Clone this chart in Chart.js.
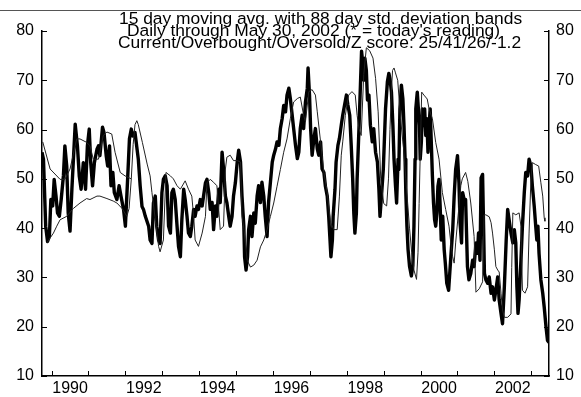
<!DOCTYPE html>
<html><head><meta charset="utf-8">
<script src="https://cdn.jsdelivr.net/npm/chart.js@4"></script>
<style>
html,body{margin:0;padding:0;background:#fff;}
#wrap{position:relative;width:581px;height:397px;overflow:hidden;background:#fff;}
#rule{position:absolute;left:0;top:10px;width:581px;height:1px;background:#555;}
canvas{position:absolute;left:0;top:0;}
.tl{position:absolute;white-space:nowrap;font-family:"Liberation Sans",Arial,Helvetica,sans-serif;font-size:17.4px;line-height:13px;height:13px;color:#000;z-index:2;}
</style></head>
<body>
<div id="wrap">
<div id="rule"></div>
<canvas id="c" width="581" height="397"></canvas>
<div class="tl" id="t1" style="left:119px;top:12px;">15 day moving avg. with 88 day std. deviation bands</div>
<div class="tl" id="t2" style="left:127px;top:24px;">Daily through May 30, 2002 (* = today's reading)</div>
<div class="tl" id="t3" style="left:118px;top:36px;">Current/Overbought/Oversold/Z score: 25/41/26/-1.2</div>
</div>
<script>
// ---- data (decimal years as labelled on the chart's axis) ----
const yearLabels = [1990, 1992, 1994, 1996, 1998, 2000, 2002];
const tickMarkYears = [1989.5,1990.5,1991.5,1992.5,1993.5,1994.5,1995.5,1996.5,1997.5,1998.5,1999.5,2000.5,2001.5,2002.5];
const valueTicks = [10, 20, 30, 40, 50, 60, 70, 80];

// thick line: 15 day moving average
const thickYears = [1989.24,1989.28,1989.34,1989.39,1989.44,1989.48,1989.53,1989.57,1989.62,1989.66,1989.71,1989.76,1989.82,1989.86,1989.91,1989.95,1990.00,1990.05,1990.11,1990.14,1990.20,1990.25,1990.30,1990.36,1990.42,1990.47,1990.52,1990.56,1990.61,1990.66,1990.73,1990.77,1990.81,1990.88,1990.92,1990.98,1991.02,1991.07,1991.11,1991.16,1991.20,1991.27,1991.33,1991.38,1991.45,1991.50,1991.56,1991.61,1991.66,1991.70,1991.76,1991.85,1991.90,1991.95,1991.99,1992.04,1992.13,1992.17,1992.22,1992.26,1992.31,1992.35,1992.40,1992.44,1992.49,1992.53,1992.58,1992.63,1992.67,1992.72,1992.76,1992.80,1992.85,1992.90,1992.94,1992.99,1993.03,1993.08,1993.12,1993.17,1993.21,1993.26,1993.30,1993.35,1993.39,1993.44,1993.48,1993.53,1993.58,1993.67,1993.71,1993.76,1993.80,1993.85,1993.89,1993.94,1993.98,1994.03,1994.07,1994.12,1994.16,1994.21,1994.25,1994.30,1994.34,1994.39,1994.43,1994.48,1994.53,1994.57,1994.62,1994.66,1994.71,1994.73,1994.77,1994.81,1994.84,1994.89,1994.93,1994.98,1995.02,1995.07,1995.11,1995.16,1995.20,1995.25,1995.29,1995.34,1995.38,1995.43,1995.48,1995.52,1995.57,1995.61,1995.66,1995.70,1995.75,1995.79,1995.84,1995.88,1995.93,1995.97,1996.02,1996.06,1996.11,1996.16,1996.20,1996.24,1996.29,1996.33,1996.38,1996.43,1996.45,1996.49,1996.52,1996.56,1996.61,1996.65,1996.70,1996.74,1996.79,1996.83,1996.88,1996.92,1996.97,1997.01,1997.04,1997.07,1997.11,1997.13,1997.18,1997.21,1997.26,1997.30,1997.35,1997.39,1997.44,1997.49,1997.53,1997.58,1997.62,1997.66,1997.69,1997.72,1997.76,1997.78,1997.83,1997.87,1997.90,1997.94,1997.96,1997.99,1998.03,1998.06,1998.10,1998.14,1998.19,1998.23,1998.28,1998.33,1998.37,1998.40,1998.44,1998.49,1998.55,1998.60,1998.64,1998.67,1998.71,1998.75,1998.78,1998.82,1998.85,1998.89,1998.91,1998.94,1998.98,1999.02,1999.05,1999.08,1999.10,1999.13,1999.16,1999.20,1999.25,1999.29,1999.32,1999.35,1999.37,1999.41,1999.44,1999.47,1999.49,1999.52,1999.55,1999.57,1999.61,1999.64,1999.67,1999.70,1999.73,1999.76,1999.79,1999.82,1999.85,1999.88,1999.91,1999.94,1999.97,2000.00,2000.03,2000.06,2000.10,2000.14,2000.17,2000.21,2000.26,2000.29,2000.32,2000.37,2000.41,2000.45,2000.50,2000.54,2000.57,2000.61,2000.64,2000.68,2000.72,2000.77,2000.81,2000.86,2000.91,2000.95,2001.00,2001.04,2001.07,2001.11,2001.14,2001.18,2001.21,2001.23,2001.27,2001.32,2001.36,2001.41,2001.45,2001.50,2001.54,2001.59,2001.63,2001.68,2001.72,2001.77,2001.82,2001.86,2001.91,2001.95,2002.00,2002.04,2002.08,2002.11,2002.14,2002.17,2002.22,2002.26,2002.31,2002.35,2002.40,2002.44,2002.49,2002.53,2002.58,2002.62,2002.65,2002.68,2002.71,2002.76,2002.81,2002.85,2002.90,2002.94,2002.98];
const thickValues = [55.4,54.0,40.4,37.3,38.3,45.8,44.5,49.9,46.5,43.1,42.4,45.8,50.6,56.7,52.6,43.1,39.4,47.9,56.7,61.1,56.7,50.6,47.9,53.3,47.9,56.7,60.1,53.3,48.6,53.3,56.0,56.7,54.7,60.5,59.4,54.7,52.6,56.7,48.6,51.3,47.2,45.8,48.6,46.5,43.8,40.4,49.9,58.1,60.1,58.7,59.4,54.0,48.6,44.4,43.8,42.4,40.4,37.6,36.9,45.1,46.5,40.4,37.6,36.9,47.2,49.9,50.6,48.6,40.4,39.0,47.2,47.9,45.8,40.4,36.3,34.2,41.7,47.9,45.8,42.4,39.0,38.3,40.4,43.8,42.4,44.5,43.8,45.8,44.5,49.2,49.9,47.2,43.8,45.2,39.7,44.5,42.4,47.9,45.2,55.4,52.0,46.5,45.2,42.4,40.4,42.4,46.5,49.2,53.4,55.8,53.4,46.5,40.4,34.2,31.5,34.2,39.7,42.4,38.3,43.1,41.0,46.5,48.6,45.2,49.3,46.5,42.4,38.3,45.2,49.3,53.4,54.8,56.1,57.5,56.8,60.2,62.3,64.9,63.6,67.0,68.4,66.3,62.9,60.2,56.8,54.1,55.4,60.2,62.9,60.2,65.6,68.4,72.5,67.0,60.2,54.8,58.2,60.2,56.1,54.8,57.5,52.0,51.3,48.5,46.5,42.4,38.3,34.2,37.6,42.4,47.9,53.4,56.8,58.2,60.9,62.9,65.0,67.0,65.0,62.9,56.8,50.0,43.1,39.0,43.1,50.0,60.2,69.1,75.9,73.0,70.0,74.5,72.0,66.0,67.0,60.9,57.5,60.2,55.4,53.4,47.9,42.4,46.5,52.0,64.2,69.7,71.4,70.3,67.6,60.8,54.0,48.6,45.1,54.0,51.9,64.2,69.0,66.2,60.8,54.0,47.2,40.4,35.7,32.3,30.3,32.3,40.4,54.0,64.2,67.6,64.2,60.8,54.0,57.4,64.2,60.8,64.2,58.8,62.2,55.4,60.8,64.2,57.4,50.6,45.1,41.7,40.4,43.1,48.5,49.9,44.5,37.6,42.4,35.6,32.9,28.8,27.4,30.8,34.2,39.6,46.5,51.9,54.7,49.2,41.1,37.0,47.2,45.8,45.8,32.2,29.5,30.8,33.5,32.2,37.0,34.9,39.0,33.5,50.2,50.9,39.0,30.8,29.5,28.8,30.1,26.8,28.1,25.4,27.4,30.1,25.4,22.7,20.6,28.1,37.6,43.8,41.1,39.0,37.0,39.7,37.0,28.1,22.7,25.4,33.5,40.4,47.2,51.3,50.6,54.0,52.6,48.5,44.4,40.4,37.6,40.4,34.9,29.5,26.8,24.0,19.9,17.2,16.8];

// thin line: band
const thinYears = [1989.37,1989.46,1989.55,1989.64,1989.73,1989.91,1990.09,1990.27,1990.45,1990.54,1990.73,1990.81,1991.00,1991.17,1991.27,1991.41,1991.54,1991.60,1991.66,1991.71,1991.76,1991.81,1991.85,1991.96,1992.09,1992.17,1992.22,1992.31,1992.40,1992.44,1992.53,1992.60,1992.72,1992.80,1992.90,1992.99,1993.12,1993.21,1993.30,1993.35,1993.39,1993.48,1993.58,1993.67,1993.71,1993.80,1993.89,1993.98,1994.07,1994.16,1994.21,1994.25,1994.34,1994.43,1994.53,1994.62,1994.66,1994.71,1994.80,1994.89,1994.98,1995.07,1995.16,1995.25,1995.34,1995.43,1995.52,1995.61,1995.70,1995.79,1995.88,1995.97,1996.06,1996.16,1996.24,1996.33,1996.38,1996.47,1996.56,1996.65,1996.70,1996.79,1996.88,1996.97,1997.06,1997.15,1997.24,1997.30,1997.35,1997.39,1997.46,1997.55,1997.64,1997.73,1997.78,1997.83,1997.89,1997.96,1998.03,1998.12,1998.21,1998.28,1998.35,1998.42,1998.50,1998.58,1998.63,1998.67,1998.71,1998.74,1998.78,1998.82,1998.88,1998.92,1998.96,1999.04,1999.10,1999.15,1999.20,1999.26,1999.32,1999.39,1999.43,1999.46,1999.49,1999.53,1999.59,1999.68,1999.73,1999.82,1999.91,2000.00,2000.09,2000.18,2000.27,2000.32,2000.37,2000.41,2000.45,2000.54,2000.59,2000.63,2000.72,2000.78,2000.86,2000.95,2001.00,2001.09,2001.18,2001.22,2001.27,2001.36,2001.41,2001.45,2001.50,2001.54,2001.59,2001.63,2001.68,2001.72,2001.77,2001.86,2001.95,2001.97,2002.00,2002.08,2002.17,2002.22,2002.26,2002.33,2002.40,2002.44,2002.49,2002.53,2002.62,2002.70,2002.76,2002.81,2002.85,2002.87];
const thinValues = [37.0,38.0,39.0,40.4,41.7,42.4,44.0,45.1,46.0,45.8,46.5,46.5,46.0,45.5,45.1,44.0,42.4,44.0,50.0,57.0,61.0,61.8,61.0,57.4,53.0,50.6,47.2,41.7,36.3,35.2,37.6,51.3,50.6,50.0,48.6,47.9,49.6,47.9,46.5,42.4,37.6,36.3,39.0,42.4,49.2,49.9,49.3,48.6,39.7,40.4,52.0,54.4,54.8,53.7,53.7,53.4,42.5,40.0,33.5,32.1,32.5,33.5,36.2,37.6,39.7,42.4,45.1,48.5,51.9,55.4,58.1,62.2,65.6,66.3,66.6,62.9,61.6,67.7,68.1,67.0,63.6,57.5,51.3,47.2,41.1,39.7,39.7,46.5,54.8,57.5,62.9,67.0,67.7,67.0,62.9,60.2,58.8,71.2,76.6,76.0,74.5,70.4,63.6,50.0,45.0,44.5,50.0,60.0,68.0,72.0,72.5,71.5,70.0,66.0,62.0,56.0,50.0,45.0,40.0,35.0,31.5,29.6,35.0,45.0,55.0,67.6,67.0,66.2,64.2,62.2,57.4,54.0,47.2,43.8,40.4,36.9,34.2,32.9,37.0,44.4,48.6,50.0,51.3,49.5,45.1,38.3,27.0,27.7,29.1,42.7,42.7,42.3,41.1,39.0,35.6,32.2,31.5,31.1,26.8,23.4,21.9,21.9,22.6,32.0,43.1,42.7,43.1,40.4,27.4,26.8,28.1,39.0,49.9,53.3,52.9,52.6,49.2,46.5,42.1,41.4];

// second thin line visible at the start
const thin2Years = [1989.26,1989.46,1989.73,1989.86,1990.00,1990.18,1990.27,1990.45,1990.54,1990.63,1990.77,1990.90,1991.00,1991.13,1991.22,1991.36,1991.49,1991.66];
const thin2Values = [57.5,52.0,49.9,49.9,52.0,58.1,58.1,57.4,56.7,54.0,54.0,58.8,59.5,59.1,55.4,51.3,50.6,50.0];

// ---- chart ----
const FONT = '"Liberation Sans", Arial, Helvetica, sans-serif';
const pts = (xs, ys) => xs.map((x, i) => ({x: x, y: ys[i]}));

const inwardTicks = {
  id: 'inwardTicks',
  afterDatasetsDraw(chart) {
    const {ctx, chartArea: a, scales} = chart;
    ctx.save();
    ctx.strokeStyle = '#000';
    ctx.lineWidth = 1;
    ctx.beginPath();
    tickMarkYears.forEach(v => {
      const px = Math.round(scales.x.getPixelForValue(v)) + 0.5;
      ctx.moveTo(px, a.bottom); ctx.lineTo(px, a.bottom - 5);
    });
    valueTicks.forEach(v => {
      const py = Math.round(scales.y.getPixelForValue(v)) + 0.5;
      ctx.moveTo(a.left, py); ctx.lineTo(a.left + 5, py);
      ctx.moveTo(a.right, py); ctx.lineTo(a.right - 5, py);
    });
    ctx.stroke();
    ctx.restore();
  }
};

const yAxis = (pos, w, pad) => ({
  position: pos, min: 10, max: 80,
  grid: {display: false, drawTicks: false},
  border: {display: true, color: '#000', width: 1.5},
  ticks: {stepSize: 10, padding: pad, color: '#000', font: {family: FONT, size: 16}},
  afterBuildTicks: s => { s.ticks = valueTicks.map(v => ({value: v})); },
  afterFit: s => { s.width = w; }
});

new Chart(document.getElementById('c'), {
  type: 'line',
  data: {datasets: [
    {label: 'upper band', data: pts(thin2Years, thin2Values), borderColor: '#222', borderWidth: 1, pointRadius: 0, tension: 0, yAxisID: 'y'},
    {label: 'band', data: pts(thinYears, thinValues), borderColor: '#222', borderWidth: 1, pointRadius: 0, tension: 0, yAxisID: 'y'},
    {label: '15 day moving avg.', data: pts(thickYears, thickValues), borderColor: '#000', borderWidth: 3.4, borderJoinStyle: 'round', pointRadius: 0, tension: 0, yAxisID: 'y'}
  ]},
  options: {
    responsive: false, animation: false, devicePixelRatio: 1,
    layout: {padding: {top: 31, left: 0, right: 0, bottom: 0}},
    plugins: {legend: {display: false}, tooltip: {enabled: false}, title: {display: false}},
    scales: {
      x: {
        type: 'linear', min: 1989.24, max: 2002.98,
        grid: {display: false, drawTicks: false},
        border: {display: true, color: '#000', width: 1.5},
        afterBuildTicks: s => {
          const all = tickMarkYears.concat(yearLabels).sort((a, b) => a - b);
          s.ticks = all.map(v => ({value: v}));
        },
        ticks: {autoSkip: false, maxRotation: 0, padding: 3, color: '#000', font: {family: FONT, size: 16},
          callback: v => yearLabels.includes(v) ? String(v) : ''},
        afterFit: s => { s.height = 21; }
      },
      y: yAxis('left', 42, 8),
      y2: yAxis('right', 32, 7)
    }
  },
  plugins: [inwardTicks]
});
</script>
</body></html>
